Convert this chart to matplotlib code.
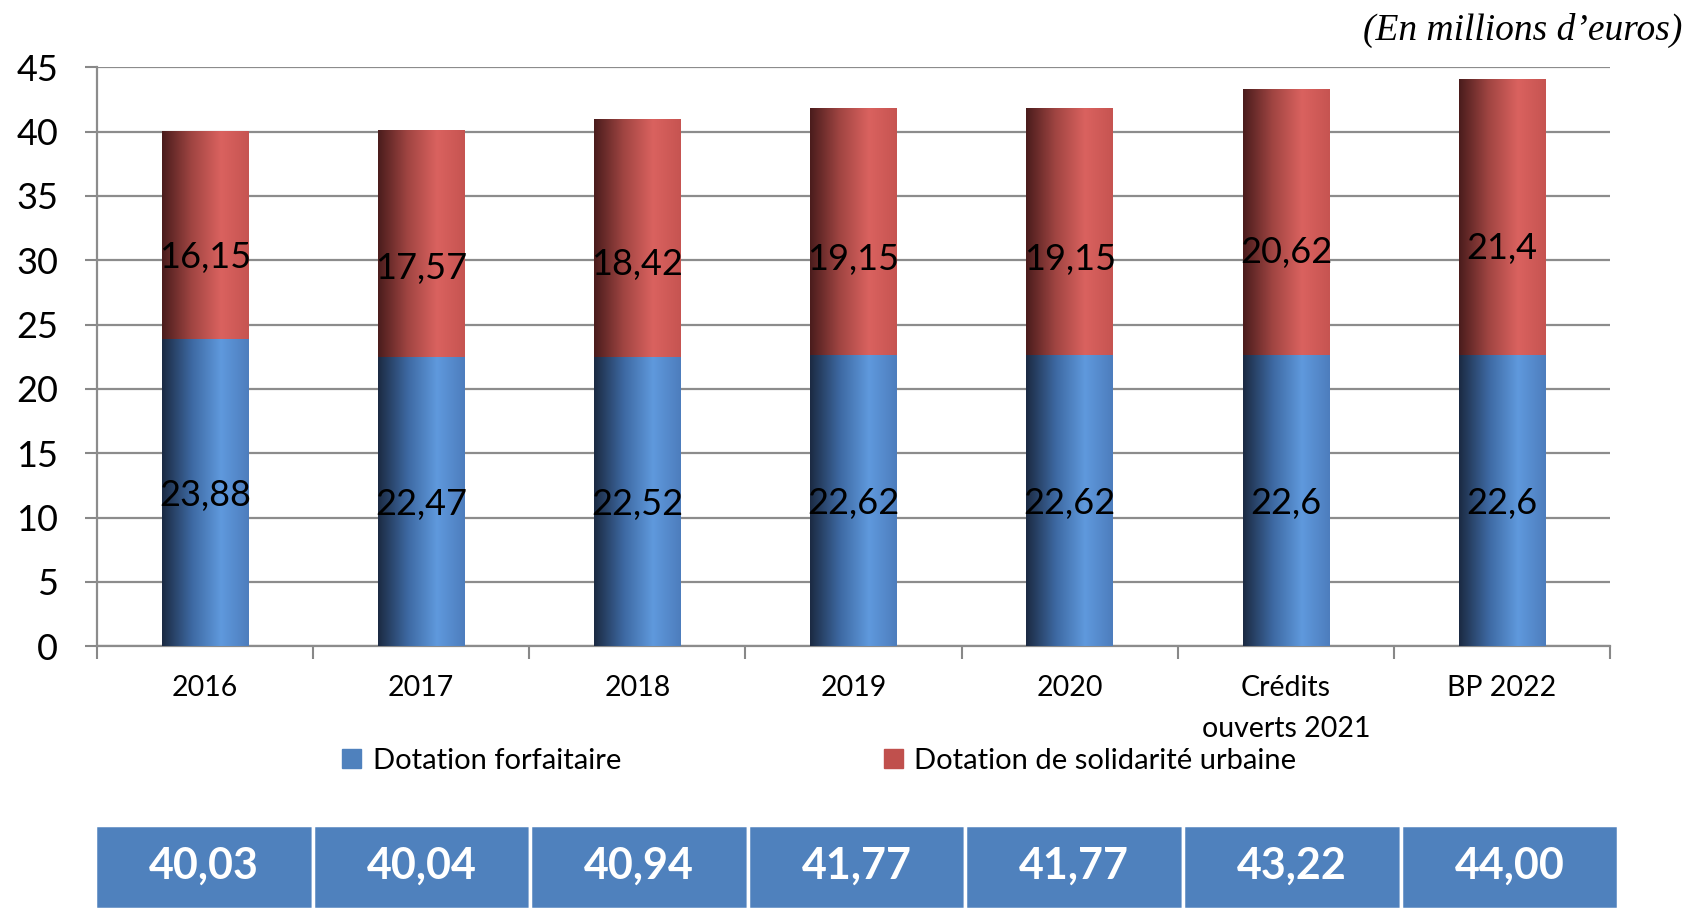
import numpy as np
import matplotlib
matplotlib.use("Agg")
import matplotlib.pyplot as plt
from matplotlib.colors import LinearSegmentedColormap
from matplotlib.patches import Patch

# data (millions d'euros)
categories = ["2016", "2017", "2018", "2019", "2020", "Crédits\nouverts 2021", "BP 2022"]
forfaitaire = [23.88, 22.47, 22.52, 22.62, 22.62, 22.6, 22.6]
dsu = [16.15, 17.57, 18.42, 19.15, 19.15, 20.62, 21.4]
forfaitaire_lbl = ["23,88", "22,47", "22,52", "22,62", "22,62", "22,6", "22,6"]
dsu_lbl = ["16,15", "17,57", "18,42", "19,15", "19,15", "20,62", "21,4"]
totals_lbl = ["40,03", "40,04", "40,94", "41,77", "41,77", "43,22", "44,00"]

plt.rcParams['font.family'] = ['Lato', 'DejaVu Sans']

blue_cmap = LinearSegmentedColormap.from_list(
    "b", [(0, "#1b2a42"), (0.35, "#3e6aa4"), (0.68, "#5f99dd"), (1, "#4d7dbd")])
red_cmap = LinearSegmentedColormap.from_list(
    "r", [(0, "#4a1c1c"), (0.35, "#a24643"), (0.68, "#da625f"), (1, "#c65451")])
grad = np.linspace(0, 1, 256).reshape(1, -1)

fig = plt.figure(figsize=(16.86, 9.09), dpi=100)
ax = fig.add_axes([0.0575, 0.289, 0.8975, 0.637])

x = np.arange(len(categories))
w = 0.4
for i in x:
    b = forfaitaire[i]
    t = forfaitaire[i] + dsu[i]
    ax.imshow(grad, cmap=blue_cmap, aspect="auto", extent=(i - w / 2, i + w / 2, 0, b), zorder=3)
    ax.imshow(grad, cmap=red_cmap, aspect="auto", extent=(i - w / 2, i + w / 2, b, t), zorder=3)
    ax.text(i, b * 0.49, forfaitaire_lbl[i], ha="center", va="center", fontsize=26, zorder=4)
    ax.text(i, b + dsu[i] * 0.39, dsu_lbl[i], ha="center", va="center", fontsize=26, zorder=4)

ax.set_xlim(-0.5, len(categories) - 0.5)
ax.set_ylim(0, 45)
ax.set_yticks(np.arange(0, 46, 5))
ax.tick_params(axis="y", labelsize=26, length=9, color="#888888", width=1.5, pad=19)
ax.grid(axis="y", color="#8c8c8c", linewidth=1.6, zorder=0)
ax.set_axisbelow(True)

ax.set_xticks(np.arange(-0.5, len(categories), 1))
ax.set_xticklabels([])
ax.set_xticks(x, minor=True)
ax.set_xticklabels(categories, minor=True, fontsize=20.5, linespacing=1.7, va="top")
ax.tick_params(axis="x", which="major", length=9, color="#888888", width=1.5, direction="out")
ax.tick_params(axis="x", which="minor", length=0, pad=21)

for s in ["top", "right"]:
    ax.spines[s].set_visible(False)
for s in ["left", "bottom"]:
    ax.spines[s].set_color("#8c8c8c")
    ax.spines[s].set_linewidth(1.6)

handles = [Patch(color="#4f81bd", label="Dotation forfaitaire"),
           Patch(color="#c0504d", label="Dotation de solidarité urbaine")]
fig.legend(handles=handles, loc="center", bbox_to_anchor=(0.486, 0.163), ncol=2,
           frameon=False, fontsize=21, handlelength=0.65, handleheight=0.65,
           handletextpad=0.4, columnspacing=9.0)

fig.text(0.998, 0.966, "(En millions d\u2019euros)", ha="right", va="center",
         fontsize=27, style="italic", family="Liberation Serif")

# totals row
tax = fig.add_axes([0.0563, 0.0, 0.9035, 0.0925])
tax.bar(x, [1] * len(x), width=1, color="#4f81bd", edgecolor="white", linewidth=2.5)
for i in x:
    tax.text(i, 0.52, totals_lbl[i], ha="center", va="center", color="white",
             fontsize=31, fontweight="bold")
tax.set_xlim(-0.5, len(x) - 0.5)
tax.set_ylim(0, 1)
tax.axis("off")

fig.savefig("out.png", dpi=100)
